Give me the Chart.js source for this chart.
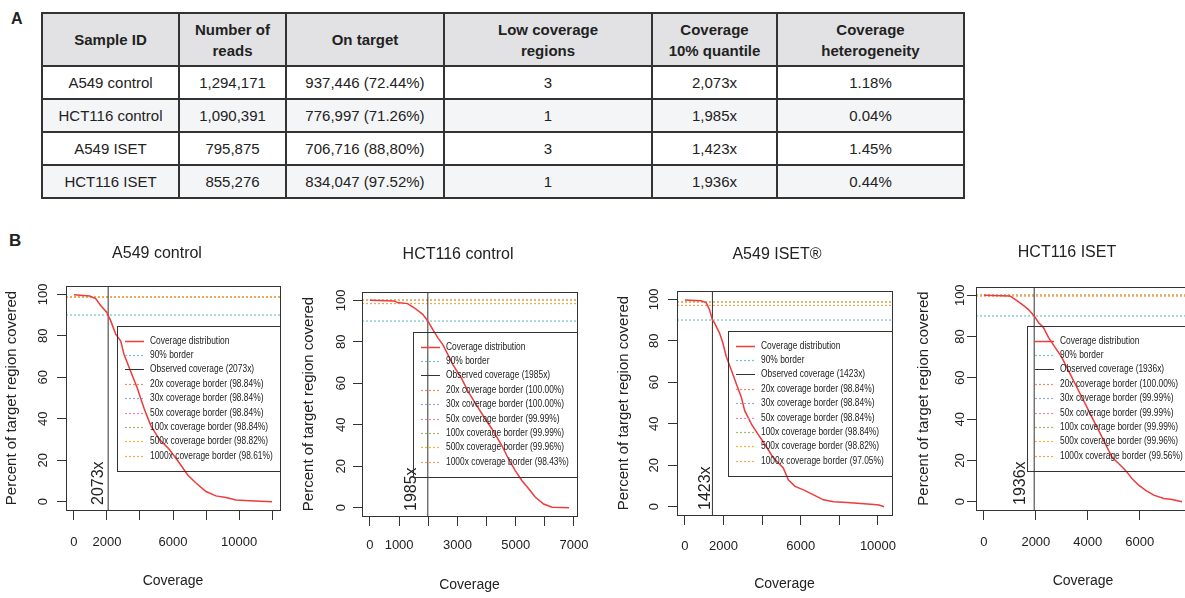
<!DOCTYPE html>
<html lang="en">
<head>
<meta charset="UTF-8" />
<title>Target coverage</title>
<script src="https://cdn.jsdelivr.net/npm/chart.js"></script>
<style>
  html, body { margin: 0; padding: 0; background: #fff; width: 1185px; height: 598px; overflow: hidden;
    font-family: "Liberation Sans", Arial, sans-serif; color: #222; }
  .panel-label { position: absolute; font-weight: bold; font-size: 16px; }
  #stats { position: absolute; left: 41px; top: 12px; border-collapse: collapse; table-layout: fixed; width: 910px; }
  #stats th, #stats td { border: 2px solid #333; text-align: center; font-size: 15px; padding: 0; }
  #stats th { background: #e2e2e4; height: 51px; line-height: 21px; }
  #stats td { height: 31px; }
  #stats tbody tr:nth-child(even) td { background: #f4f5f7; }
</style>
</head>
<body>
<div class="panel-label" style="left:11px;top:10px;">A</div>
<div class="panel-label" style="left:9px;top:231px;font-size:17px;">B</div>
<table id="stats"><thead><tr></tr></thead><tbody></tbody></table>

<script>
// ---- table A ----
const tableHeaders = ['Sample ID', 'Number of\nreads', 'On target', 'Low coverage\nregions', 'Coverage\n10% quantile', 'Coverage\nheterogeneity'];
const columnWidths = [135, 105, 156, 206, 123, 185];
const sampleIds = ['A549 control', 'HCT116 control', 'A549 ISET', 'HCT116 ISET'];
const readCounts = ['1,294,171', '1,090,391', '795,875', '855,276'];
const onTarget = ['937,446 (72.44%)', '776,997 (71.26%)', '706,716 (88,80%)', '834,047 (97.52%)'];
const lowCoverageRegions = [3, 1, 3, 1];
const coverageQuantile10 = ['2,073x', '1,985x', '1,423x', '1,936x'];
const heterogeneity = ['1.18%', '0.04%', '1.45%', '0.44%'];

// ---- panel B ----
const chartTitles = ['A549 control', 'HCT116 control', 'A549 ISET®', 'HCT116 ISET'];
const observedCoverage = [2073, 1985, 1423, 1936];
const borderDepths = ['20x', '30x', '50x', '100x', '500x', '1000x'];
const yTicks = [0, 20, 40, 60, 80, 100];

const a549CtrlCoverage = [0, 950, 1315, 1620, 1985, 2225, 2530, 2835, 3035, 3440, 3845, 4250, 4655, 5160, 5770, 6375, 6880, 7390, 7995, 8600, 9210, 9815, 10630, 12000];
const a549CtrlPercent = [99.8, 99.2, 97.9, 94.6, 91.4, 87.3, 80.8, 77.5, 71.0, 62.8, 54.6, 44.9, 36.7, 30.2, 25.3, 18.8, 13.0, 9.0, 4.9, 2.8, 2.0, 0.8, 0.5, 0.0];
const a549CtrlBorders = [98.84, 98.84, 98.84, 98.84, 98.82, 98.61];
const a549CtrlXTicks = [0, 2000, 4000, 6000, 8000, 10000, 12000];
const a549CtrlXLabels = [0, 2000, 6000, 10000];

const hct116CtrlCoverage = [0, 830, 945, 1290, 1520, 1810, 1985, 2157, 2330, 2500, 2675, 2850, 3137, 3370, 3655, 3945, 4175, 4520, 4750, 4980, 5210, 5445, 5675, 5960, 6250, 6830];
const hct116CtrlPercent = [100, 99.7, 98.9, 98.4, 96.4, 93.2, 90.0, 85.9, 81.9, 78.6, 73.8, 68.9, 62.5, 56.0, 49.5, 43.0, 38.2, 30.1, 23.6, 18.0, 13.1, 9.1, 5.0, 1.8, 0.2, 0.0];
const hct116CtrlBorders = [100.00, 100.00, 99.99, 99.99, 99.96, 98.43];
const hct116CtrlXTicks = [0, 1000, 2000, 3000, 4000, 5000, 6000, 7000];
const hct116CtrlXLabels = [0, 1000, 3000, 5000, 7000];

const a549IsetCoverage = [0, 835, 1095, 1270, 1423, 1530, 1790, 1965, 2140, 2400, 2660, 2920, 3095, 3445, 3790, 4140, 4575, 5095, 5355, 5705, 6140, 6660, 7180, 7705, 8400, 9095, 9790, 10050, 10315];
const a549IsetPercent = [99.7, 99.3, 98.4, 95.1, 90.0, 88.6, 83.7, 78.9, 72.4, 65.9, 59.3, 52.8, 46.3, 39.8, 34.9, 30.1, 23.6, 18.7, 13.0, 9.8, 8.1, 5.7, 3.3, 2.4, 2.0, 1.6, 1.1, 0.8, 0.0];
const a549IsetBorders = [98.84, 98.84, 98.84, 98.84, 98.82, 97.05];
const a549IsetXTicks = [0, 2000, 4000, 6000, 8000, 10000];
const a549IsetXLabels = [0, 2000, 6000, 10000];

const hct116IsetCoverage = [0, 1000, 1200, 1455, 1710, 1936, 2100, 2290, 2485, 2740, 3000, 3255, 3450, 3705, 3965, 4220, 4480, 4735, 4930, 5185, 5445, 5700, 5960, 6215, 6540, 6925, 7245, 7630];
const hct116IsetPercent = [100, 99.7, 98.0, 95.7, 93.2, 90.0, 86.8, 84.4, 79.6, 74.8, 69.9, 63.5, 58.7, 52.3, 45.8, 39.4, 33.0, 26.5, 21.7, 18.5, 15.3, 11.3, 8.0, 5.6, 3.2, 1.6, 1.1, 0.0];
const hct116IsetBorders = [100.00, 99.99, 99.99, 99.99, 99.96, 99.56];
const hct116IsetXTicks = [0, 2000, 4000, 6000];
const hct116IsetXLabels = [0, 2000, 4000, 6000];

// build table
const headRow = document.querySelector('#stats thead tr');
tableHeaders.forEach((h, i) => {
  const th = document.createElement('th');
  th.style.width = columnWidths[i] + 'px';
  th.innerHTML = h.replace('\n', '<br>');
  headRow.appendChild(th);
});
const body = document.querySelector('#stats tbody');
sampleIds.forEach((s, i) => {
  const tr = document.createElement('tr');
  [s, readCounts[i], onTarget[i], lowCoverageRegions[i], coverageQuantile10[i], heterogeneity[i]].forEach(v => {
    const td = document.createElement('td');
    td.textContent = v;
    tr.appendChild(td);
  });
  body.appendChild(tr);
});

// ---- charts ----
const FONT = '"Liberation Sans", Arial, sans-serif';
const LEG_FONT = '10.5px ' + FONT;
const LEG_SQUEEZE = 0.8; // no narrow face installed, so condense by hand
const curveColor = '#ee3b3b';
const ninetyColor = '#72c2cc';
const borderColors = ['#f08a6e', '#93a8dc', '#ee82b0', '#9ebd6c', '#f2b640', '#f0a45a'];
const TOP = 235;
const RIGHT_PAD = 16; // room for the last x label

Chart.defaults.font.family = FONT;
Chart.defaults.color = '#222';

const panels = [
  { cov: a549CtrlCoverage, pct: a549CtrlPercent, borders: a549CtrlBorders, ticks: a549CtrlXTicks, labels: a549CtrlXLabels },
  { cov: hct116CtrlCoverage, pct: hct116CtrlPercent, borders: hct116CtrlBorders, ticks: hct116CtrlXTicks, labels: hct116CtrlXLabels },
  { cov: a549IsetCoverage, pct: a549IsetPercent, borders: a549IsetBorders, ticks: a549IsetXTicks, labels: a549IsetXLabels },
  { cov: hct116IsetCoverage, pct: hct116IsetPercent, borders: hct116IsetBorders, ticks: hct116IsetXTicks, labels: hct116IsetXLabels }
];

// page positions of each panel (layout only)
const boxes = [
  { left: 3,   boxLeft: 66,  boxRight: 280,  boxTop: 286, boxBottom: 510, titleX: 157,  titleY: 254, tickOff: 23, obsOff: 9.5, legLeft: 117,  legTop: 326, tickPad: 15, xTitlePad: 10 },
  { left: 300, boxLeft: 362, boxRight: 577,  boxTop: 292, boxBottom: 516, titleX: 458,  titleY: 255, tickOff: 21, obsOff: 16,  legLeft: 413,  legTop: 332, tickPad: 12, xTitlePad: 6 },
  { left: 615, boxLeft: 677, boxRight: 892,  boxTop: 291, boxBottom: 515, titleX: 777,  titleY: 255, tickOff: 23, obsOff: 7,   legLeft: 728,  legTop: 331, tickPad: 14, xTitlePad: 7 },
  { left: 915, boxLeft: 976, boxRight: 1190, boxTop: 287, boxBottom: 510, titleX: 1067, titleY: 253, tickOff: 16, obsOff: 14,  legLeft: 1027, legTop: 326, tickPad: 15, xTitlePad: 10 }
];

// keep the plot box exactly where it is measured: no label overhang padding
function noOverhang(s) {
  s.paddingLeft = 0; s.paddingRight = 0; s.paddingTop = 0; s.paddingBottom = 0;
}

const rStyle = {
  id: 'rStyle',
  afterDatasetsDraw(chart, args, o) {
    const ctx = chart.ctx, a = chart.chartArea;
    const xs = chart.scales.x, ys = chart.scales.y;
    ctx.save();
    ctx.strokeStyle = '#333';
    ctx.lineWidth = 1;
    ctx.strokeRect(Math.round(a.left) + 0.5, Math.round(a.top) + 0.5, Math.round(a.right - a.left), Math.round(a.bottom - a.top));

    // rotated y tick labels, R style
    ctx.fillStyle = '#222';
    ctx.font = '13px ' + FONT;
    ctx.textAlign = 'center';
    ctx.textBaseline = 'middle';
    ys.ticks.forEach(t => {
      ctx.save();
      ctx.translate(a.left - o.tickOff, ys.getPixelForValue(t.value));
      ctx.rotate(-Math.PI / 2);
      ctx.fillText(String(t.value), 0, 0);
      ctx.restore();
    });

    // observed coverage text beside the vertical line
    ctx.save();
    ctx.font = '16px ' + FONT;
    ctx.textAlign = 'left';
    ctx.translate(xs.getPixelForValue(o.observed) - o.obsOff, a.bottom - 5);
    ctx.rotate(-Math.PI / 2);
    ctx.fillText(o.observed + 'x', 0, 0);
    ctx.restore();

    // legend box (transparent, like R)
    const lx = o.legLeft, ly = o.legTop, lw = a.right - o.legLeft, lh = 145;
    ctx.strokeStyle = '#333';
    ctx.lineWidth = 1;
    ctx.strokeRect(Math.round(lx) + 0.5, Math.round(ly) + 0.5, Math.round(lw), lh);
    ctx.font = LEG_FONT;
    ctx.textAlign = 'left';
    chart.data.datasets.forEach((ds, i) => {
      const y = Math.round(ly + 14.6 + i * 14.4) + 0.5;
      ctx.beginPath();
      ctx.setLineDash(ds.borderDash || []);
      ctx.strokeStyle = ds.borderColor;
      ctx.lineWidth = ds.borderWidth;
      ctx.moveTo(lx + 8, y);
      ctx.lineTo(lx + 27, y);
      ctx.stroke();
      ctx.setLineDash([]);
      ctx.fillStyle = '#222';
      ctx.save();
      ctx.translate(lx + 33, y);
      ctx.scale(LEG_SQUEEZE, 1);
      ctx.fillText(ds.label, 0, 0);
      ctx.restore();
    });

    // panel title
    ctx.font = '16px ' + FONT;
    ctx.textAlign = 'center';
    ctx.fillStyle = '#222';
    ctx.fillText(o.title, o.titleX, o.titleY);
    ctx.restore();
  }
};

panels.forEach((p, i) => {
  const b = boxes[i];
  const cw = b.boxRight + RIGHT_PAD - b.left, ch = 600 - TOP;
  const canvas = document.createElement('canvas');
  canvas.width = cw;
  canvas.height = ch;
  canvas.style.cssText = `position:absolute;left:${b.left}px;top:${TOP}px;width:${cw}px;height:${ch}px;`;
  document.body.appendChild(canvas);

  // R pads the data range by 4% on each side
  const xMax = p.cov[p.cov.length - 1];
  const xLo = -0.04 * xMax, xHi = 1.04 * xMax;
  const yLo = -4, yHi = 104;
  const obs = observedCoverage[i];

  // legend order; 'order' sets drawing (R draws 20x first, 1000x last, curve on top)
  const datasets = [
    { label: 'Coverage distribution', data: p.cov.map((c, k) => ({ x: c, y: p.pct[k] })),
      borderColor: curveColor, borderWidth: 1.5, order: 0 },
    { label: '90% border', data: [{ x: xLo, y: 90 }, { x: xHi, y: 90 }],
      borderColor: ninetyColor, borderWidth: 1.2, borderDash: [2, 2], order: 20 },
    { label: `Observed coverage (${obs}x)`, data: [{ x: obs, y: yLo }, { x: obs, y: yHi }],
      borderColor: '#333', borderWidth: 1, order: 1 }
  ];
  p.borders.forEach((v, k) => {
    datasets.push({ label: `${borderDepths[k]} coverage border (${v.toFixed(2)}%)`,
      data: [{ x: xLo, y: v }, { x: xHi, y: v }],
      borderColor: borderColors[k], borderWidth: 1.2, borderDash: [2, 2], order: 10 - k });
  });

  new Chart(canvas, {
    type: 'scatter',
    data: { datasets: datasets.map(d => Object.assign({ showLine: true, pointRadius: 0, fill: false, tension: 0 }, d)) },
    plugins: [rStyle],
    options: {
      responsive: false,
      animation: false,
      devicePixelRatio: 1,
      layout: { padding: { top: b.boxTop - TOP, right: RIGHT_PAD, left: 0, bottom: 0 } },
      plugins: {
        legend: { display: false },
        tooltip: { enabled: false },
        rStyle: { title: chartTitles[i], titleX: b.titleX - b.left, titleY: b.titleY - TOP, observed: obs,
          tickOff: b.tickOff, obsOff: b.obsOff, legLeft: b.legLeft - b.left, legTop: b.legTop - TOP }
      },
      scales: {
        x: {
          type: 'linear', min: xLo, max: xHi,
          afterBuildTicks: s => { s.ticks = p.ticks.map(v => ({ value: v })); },
          afterFit: s => { s.height = 600 - b.boxBottom; noOverhang(s); },
          border: { display: false },
          grid: { drawOnChartArea: false, drawTicks: true, tickLength: 10, tickColor: '#333', tickWidth: 1 },
          ticks: { autoSkip: false, maxRotation: 0, minRotation: 0, padding: b.tickPad,
            font: { size: 13 }, color: '#222',
            callback: v => p.labels.includes(v) ? String(v) : '' },
          title: { display: true, text: 'Coverage', font: { size: 14 }, color: '#222', padding: { top: 0, bottom: b.xTitlePad } }
        },
        y: {
          type: 'linear', min: yLo, max: yHi,
          afterBuildTicks: s => { s.ticks = yTicks.map(v => ({ value: v })); },
          afterFit: s => { s.width = b.boxLeft - b.left; noOverhang(s); },
          border: { display: false },
          grid: { drawOnChartArea: false, drawTicks: true, tickLength: 9, tickColor: '#333', tickWidth: 1 },
          ticks: { color: 'rgba(0,0,0,0)', font: { size: 13 } },
          title: { display: true, text: 'Percent of target region covered', font: { size: 15 }, color: '#222', padding: 0 }
        }
      }
    }
  });
});
</script>
</body>
</html>
